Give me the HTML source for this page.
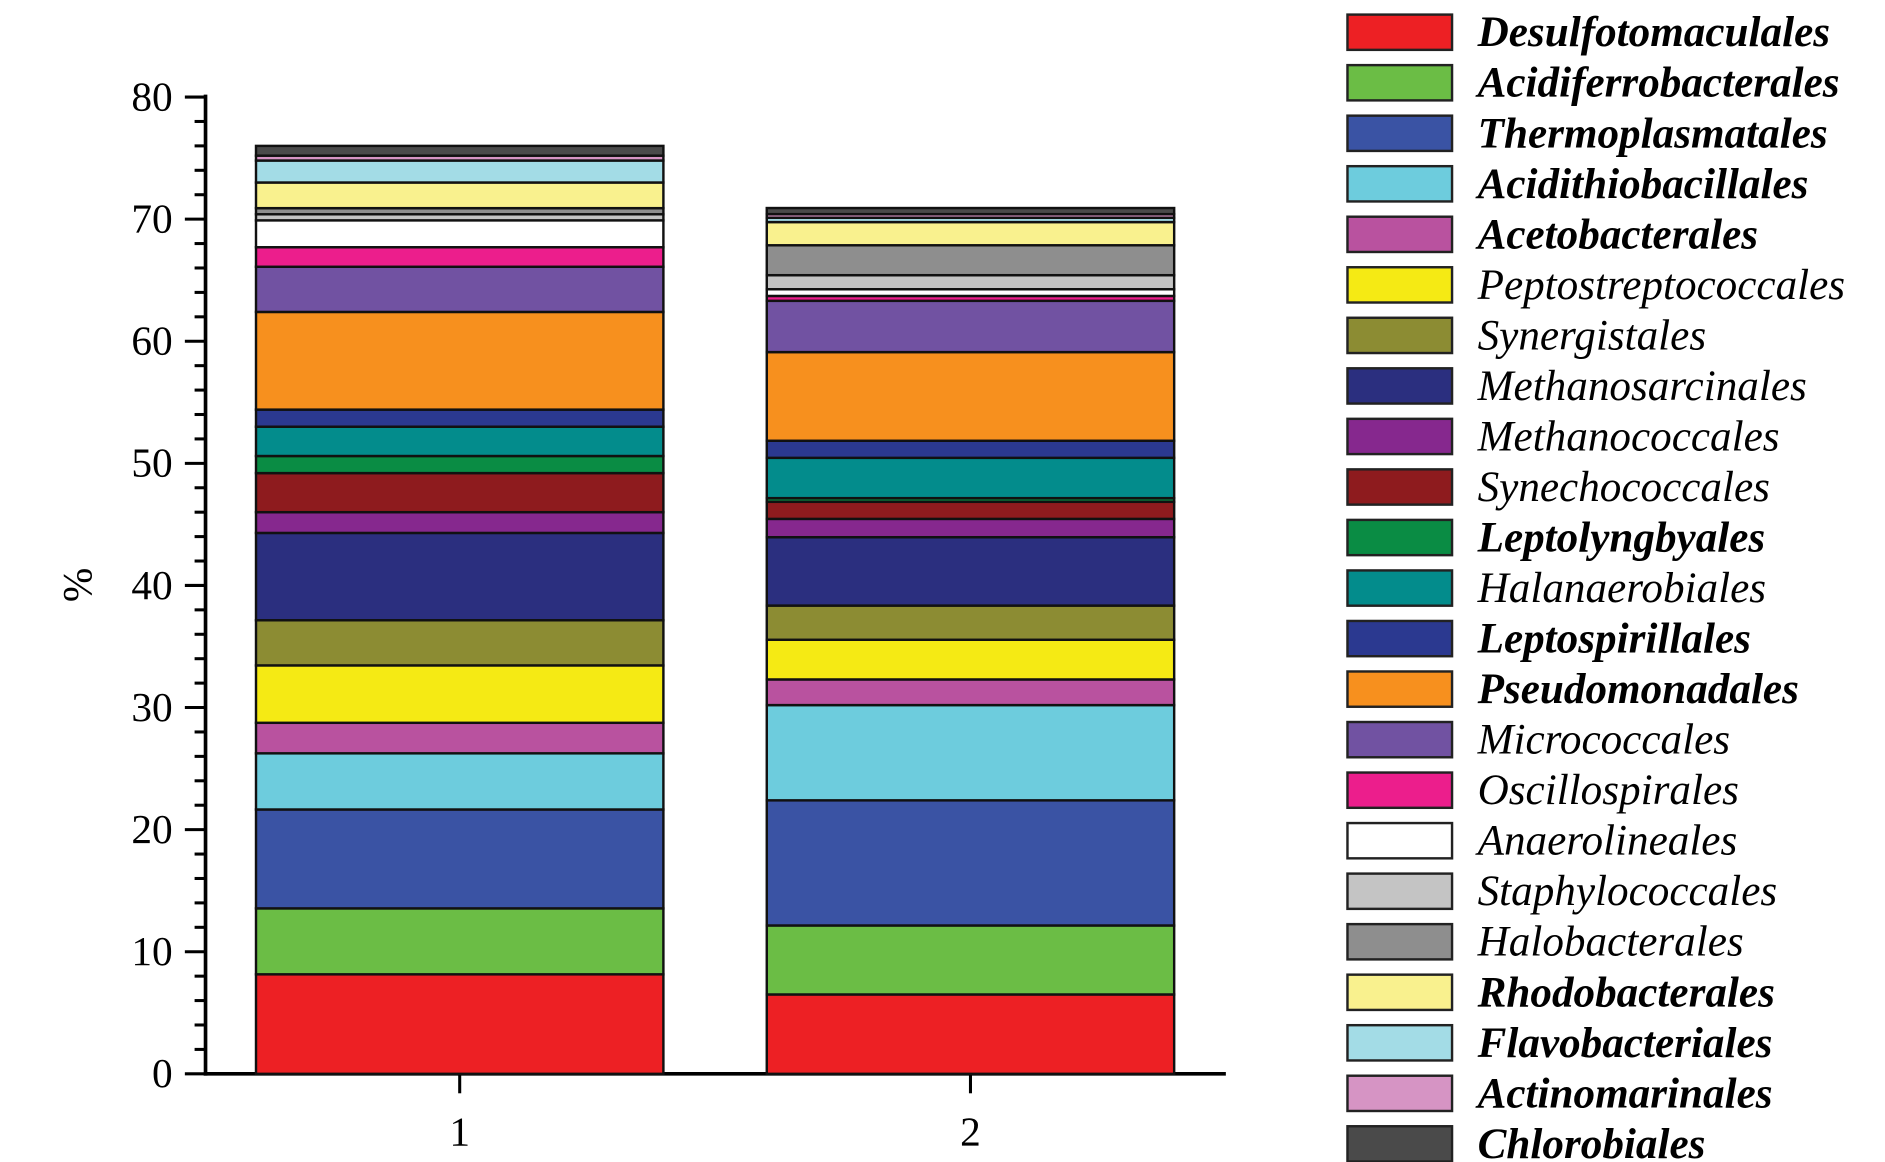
<!DOCTYPE html>
<html><head><meta charset="utf-8"><style>
html,body{margin:0;padding:0;background:#fff;}
svg{display:block;}
text{font-family:"Liberation Serif",serif;}
</style></head><body>
<svg id="chart" width="1885" height="1162" viewBox="0 0 1550 955.5" xmlns="http://www.w3.org/2000/svg">
<g id="axes"></g>
<g id="bars"></g>
<g id="legend"></g>
</svg>
<script>
const categories = ["1","2"];
const taxa = ["Desulfotomaculales","Acidiferrobacterales","Thermoplasmatales","Acidithiobacillales","Acetobacterales","Peptostreptococcales","Synergistales","Methanosarcinales","Methanococcales","Synechococcales","Leptolyngbyales","Halanaerobiales","Leptospirillales","Pseudomonadales","Micrococcales","Oscillospirales","Anaerolineales","Staphylococcales","Halobacterales","Rhodobacterales","Flavobacteriales","Actinomarinales","Chlorobiales"];
const boldTaxa = [1,1,1,1,1,0,0,0,0,0,1,0,1,1,0,0,0,0,0,1,1,1,1];
const colors = ["#ED2024","#6BBD45","#3A53A4","#6DCCDD","#B9529F","#F5EA14","#8C8C33","#2B2F7F","#86288E","#8E1B1E","#0A8C44","#038C8C","#2B3990","#F7901E","#7152A2","#EC1E8C","#FFFFFF","#C4C4C4","#8E8E8E","#F9F18E","#A3DCE6","#D694C4","#4A4A4A"];
const sample1 = [8.15,5.4,8.1,4.6,2.5,4.7,3.7,7.15,1.7,3.2,1.4,2.4,1.4,8.0,3.7,1.6,2.2,0.5,0.5,2.1,1.8,0.4,0.8];
const sample2 = [6.5,5.65,10.25,7.8,2.1,3.25,2.8,5.6,1.5,1.4,0.3,3.3,1.4,7.26,4.2,0.4,0.55,1.15,2.45,1.9,0.35,0.3,0.5];
const series = [sample1, sample2];
const yTicks = [0,10,20,30,40,50,60,70,80];

const NS="http://www.w3.org/2000/svg";
function mk(tag, attrs, parent){const e=document.createElementNS(NS,tag);for(const k in attrs)e.setAttribute(k,attrs[k]);parent.appendChild(e);return e;}
const y0=883, pxPerUnit=10.04, axX=169;
function yScale(v){return y0 - v*pxPerUnit;}
const barCenters=[378,798], barW=335;
function xScale(i){return barCenters[i];}

const axes=document.getElementById('axes');
const bars=document.getElementById('bars');
const legend=document.getElementById('legend');

series.forEach((vals,i)=>{
  let cum=0;
  vals.forEach((v,j)=>{
    const r=mk('rect',{x:xScale(i)-barW/2,y:yScale(cum+v),width:barW,height:v*pxPerUnit,fill:colors[j],stroke:'#111','stroke-width':2},bars);
    
    
    cum+=v;
  });
});

let l=mk('line',{x1:axX,y1:yScale(80)-2,x2:axX,y2:y0+1.5,stroke:'#000','stroke-width':3},axes);


for(let v=0;v<=80;v+=2){
  const major=v%10===0;
  mk('line',{x1:major?152:160,y1:yScale(v),x2:axX,y2:yScale(v),stroke:'#000','stroke-width':2.5},axes);
}
yTicks.forEach(v=>{
  const t=mk('text',{x:142,y:yScale(v)+11,'text-anchor':'end','font-size':34},axes);
  t.textContent=v;
  
  
});
const yt=mk('text',{x:0,y:0,'font-size':34,'text-anchor':'middle',transform:'translate(75,481) rotate(-90)'},axes);
yt.textContent='%';



l=mk('line',{x1:axX-1.5,y1:y0,x2:1008,y2:y0,stroke:'#000','stroke-width':3},axes);


categories.forEach((c,i)=>{
  mk('line',{x1:xScale(i),y1:y0,x2:xScale(i),y2:y0+16,stroke:'#000','stroke-width':2.5},axes);
  const t=mk('text',{x:xScale(i),y:942,'text-anchor':'middle','font-size':34},axes);
  t.textContent=c;
  
  
});

taxa.forEach((name,j)=>{
  const cy=26+j*41.55;
  const g=mk('g',{},legend);
  
  
  mk('rect',{x:1108,y:cy-14,width:86,height:29,fill:colors[j],stroke:'#222','stroke-width':2},g);
  const t=mk('text',{x:1215,y:cy+12,'font-size':35.5,'font-style':'italic','font-weight':boldTaxa[j]?'bold':'normal'},g);
  t.textContent=name;
});
</script>
</body></html>
